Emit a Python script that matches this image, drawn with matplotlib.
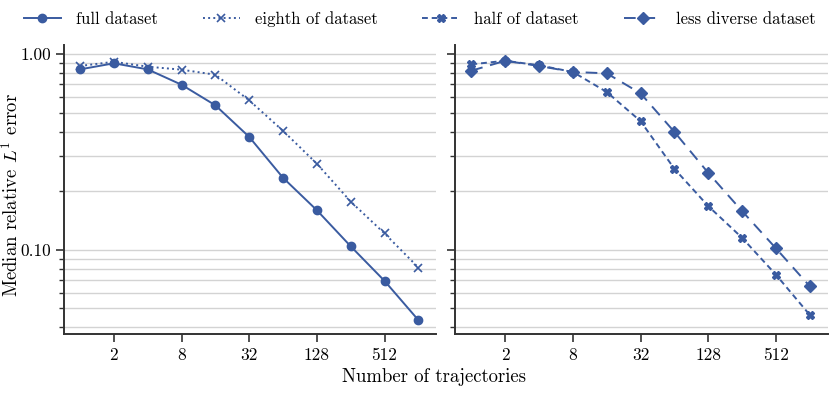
import numpy as np
import matplotlib
matplotlib.use("Agg")
import matplotlib.pyplot as plt
from matplotlib.ticker import FixedLocator, FixedFormatter, LogLocator, NullFormatter

plt.rcParams["font.family"] = ["cmr10", "DejaVu Serif"]
plt.rcParams["mathtext.fontset"] = "cm"
plt.rcParams["axes.formatter.use_mathtext"] = True
plt.rcParams["font.size"] = 12

trajectories = [1, 2, 4, 8, 16, 32, 64, 128, 256, 512, 1024]
full = [0.835, 0.897, 0.835, 0.697, 0.547, 0.377, 0.233, 0.159, 0.104, 0.0692, 0.0436]
eighth = [0.869, 0.913, 0.862, 0.832, 0.784, 0.580, 0.405, 0.275, 0.176, 0.121, 0.081]
half = [0.886, 0.924, 0.876, 0.810, 0.640, 0.454, 0.259, 0.167, 0.115, 0.0745, 0.0464]
less_diverse = [0.822, 0.924, 0.869, 0.810, 0.797, 0.630, 0.400, 0.247, 0.1575, 0.1016, 0.065]

xticks = [2, 8, 32, 128, 512]
xticklabels = ["2", "8", "32", "128", "512"]
yticks = [0.1, 1.0]
yticklabels = ["0.10", "1.00"]

color = "#3a5ba0"

fig, (ax1, ax2) = plt.subplots(1, 2, figsize=(8.31, 3.93), dpi=100, sharey=True)
fig.subplots_adjust(left=0.077, right=0.996, top=0.885, bottom=0.150, wspace=0.051)

l1, = ax1.plot(trajectories, full, "-o", color=color, ms=6, lw=1.4, label="full dataset")
l2, = ax1.plot(trajectories, eighth, ":x", color=color, ms=6, mew=1.2, lw=1.4, label="eighth of dataset")
l3, = ax2.plot(trajectories, half, "--X", color=color, ms=6, lw=1.4, dashes=(3, 2), label="half of dataset")
l4, = ax2.plot(trajectories, less_diverse, "--D", color=color, ms=6, lw=1.4, dashes=(6, 4), label="less diverse dataset")

for ax in (ax1, ax2):
    ax.set_xscale("log", base=2)
    ax.set_yscale("log")
    ax.set_xlim(0.72, 1480)
    ax.set_ylim(0.037, 1.11)
    ax.xaxis.set_major_locator(FixedLocator(xticks))
    ax.xaxis.set_major_formatter(FixedFormatter(xticklabels))
    ax.xaxis.set_minor_locator(FixedLocator([]))
    ax.yaxis.set_major_locator(FixedLocator(yticks))
    ax.yaxis.set_major_formatter(FixedFormatter(yticklabels))
    ax.yaxis.set_minor_locator(LogLocator(base=10, subs=np.arange(2, 10)))
    ax.yaxis.set_minor_formatter(NullFormatter())
    ax.grid(True, which="both", axis="y", color="#d3d3d3", lw=1.0)
    ax.set_axisbelow(True)
    for s in ("top", "right"):
        ax.spines[s].set_visible(False)
    for s in ("left", "bottom"):
        ax.spines[s].set_color("#333333")
        ax.spines[s].set_linewidth(1.4)
    ax.tick_params(which="major", length=6, width=1.2, color="#333333", labelsize=12.5)
    ax.tick_params(which="minor", length=3.5, width=1.0, color="#333333")

ax2.tick_params(axis="y", which="both", labelleft=False)

fig.text(12 / 831, 1 - 195 / 393, "Median relative $L^1$ error", rotation=90,
         ha="center", va="center", fontsize=13.5)
fig.text(0.522, 0.018, "Number of trajectories", ha="center", va="bottom", fontsize=13.5)

fig.legend(handles=[l1, l2, l3, l4], loc="upper center", bbox_to_anchor=(0.505, 1.01),
           ncol=4, frameon=False, fontsize=12, columnspacing=2.7,
           handlelength=2.25, handletextpad=0.875)

fig.savefig("out.png", dpi=100)
